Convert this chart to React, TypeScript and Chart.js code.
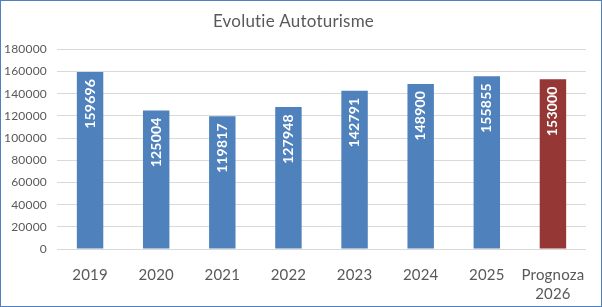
import React, { useEffect, useRef } from "react";
import { Chart, registerables } from "chart.js";

Chart.register(...registerables);

const categories: (string | string[])[] = ["2019", "2020", "2021", "2022", "2023", "2024", "2025", ["Prognoza", "2026"]];
const values: number[] = [159696, 125004, 119817, 127948, 142791, 148900, 155855, 153000];
const barColors: string[] = ["#4F81BD", "#4F81BD", "#4F81BD", "#4F81BD", "#4F81BD", "#4F81BD", "#4F81BD", "#953735"];
const titleText = "Evolutie Autoturisme";

const FONT = "Lato, 'Open Sans', sans-serif";

const noLigPlugin = {
  id: "noLig",
  beforeDraw(chart: any) {
    try {
      chart.ctx.letterSpacing = "0.2px";
    } catch (e) {}
  },
};

const labelPlugin = {
  id: "barLabels",
  afterDatasetsDraw(chart: any) {
    const ctx = chart.ctx;
    const meta = chart.getDatasetMeta(0);
    ctx.save();
    ctx.fillStyle = "#FFFFFF";
    ctx.font = `bold 14px ${FONT}`;
    ctx.textAlign = "right";
    ctx.textBaseline = "middle";
    meta.data.forEach((bar: any, i: number) => {
      ctx.save();
      ctx.translate(bar.x, bar.y + 7);
      ctx.rotate(-Math.PI / 2);
      ctx.fillText(String(values[i]), 0, 0);
      ctx.restore();
    });
    ctx.restore();
  },
};

export default function App() {
  const ref = useRef<HTMLCanvasElement | null>(null);
  useEffect(() => {
    if (!ref.current) return;
    const chart = new Chart(ref.current, {
      type: "bar",
      data: {
        labels: categories,
        datasets: [
          {
            data: values,
            backgroundColor: barColors,
            barPercentage: 0.4,
            categoryPercentage: 1,
          },
        ],
      },
      options: {
        animation: false,
        responsive: false,
        maintainAspectRatio: false,
        layout: { padding: { left: 0, right: 15, top: 0, bottom: 0 } },
        plugins: {
          legend: { display: false },
          tooltip: { enabled: false },
          title: {
            display: true,
            text: titleText,
            color: "#595959",
            font: { family: FONT, size: 17, weight: "normal" },
            padding: { top: 10, bottom: 18 },
          },
        },
        scales: {
          x: {
            grid: { display: false },
            border: { display: false },
            ticks: {
              color: "#595959",
              font: { family: FONT, size: 15, lineHeight: 1.25 },
              padding: 9,
              maxRotation: 0,
            },
            afterFit: (scale: any) => {
              scale.height = 57;
            },
          },
          y: {
            min: 0,
            max: 180000,
            grid: { color: "#D9D9D9", drawTicks: false },
            border: { display: false },
            ticks: {
              stepSize: 20000,
              color: "#595959",
              font: { family: FONT, size: 12 },
              padding: 10,
              callback: (v: any) => String(v),
            },
            afterFit: (scale: any) => {
              scale.width = 56;
            },
          },
        },
      },
      plugins: [noLigPlugin, labelPlugin],
    });
    return () => chart.destroy();
  }, []);
  return (
    <div
      style={{
        position: "fixed",
        left: 0,
        top: 0,
        width: 602,
        height: 307,
        boxSizing: "border-box",
        border: "1px solid #4F81BD",
        background: "#FFFFFF",
      }}
    >
      <canvas ref={ref} width={600} height={305} style={{ display: "block" }} />
    </div>
  );
}
